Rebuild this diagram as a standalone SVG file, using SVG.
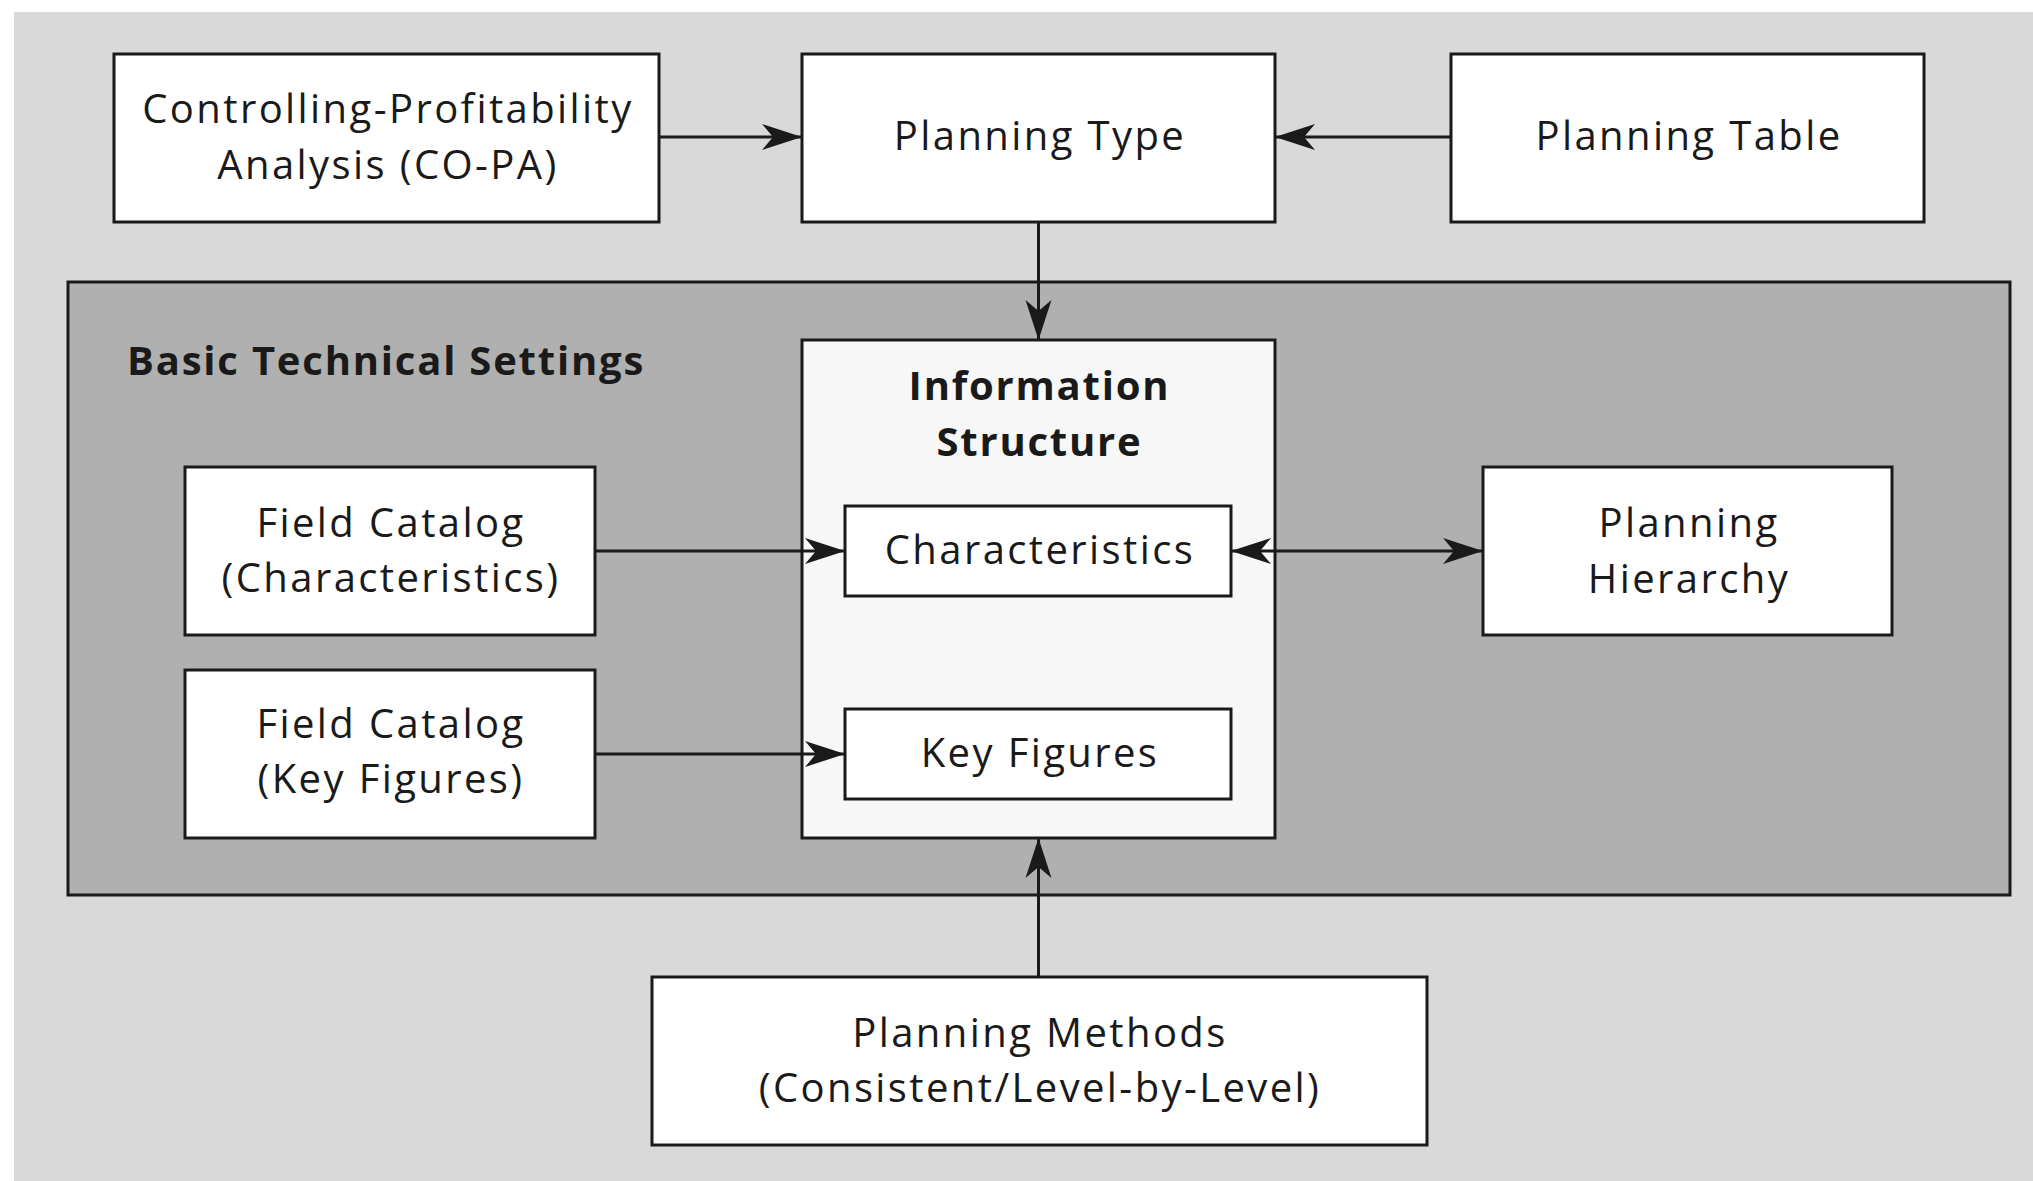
<svg xmlns="http://www.w3.org/2000/svg" width="2033" height="1181" viewBox="0 0 2033 1181">
<style>
  .box { fill: #ffffff; stroke: #1a1a1a; stroke-width: 3; }
  .panel { fill: #b0b0b0; stroke: #1a1a1a; stroke-width: 3; }
  .info { fill: #f7f7f7; stroke: #1a1a1a; stroke-width: 3; }
  .t { font-family: "Open Sans", "Liberation Sans", sans-serif; font-size: 40px; letter-spacing: 2.4px; fill: #1a1a1a; text-anchor: middle; }
  .b { font-family: "Open Sans", "Liberation Sans", sans-serif; font-size: 40px; letter-spacing: 1.8px; font-weight: bold; fill: #1a1a1a; }
  .c { fill: none; stroke: #1a1a1a; stroke-width: 3; }
</style>
<defs>
  <marker id="ah" viewBox="0 0 40 28" refX="39" refY="14" markerWidth="40" markerHeight="28" markerUnits="userSpaceOnUse" orient="auto-start-reverse">
    <path d="M0,1 L40,14 L0,27 L11,14 Z" fill="#1a1a1a"/>
  </marker>
</defs>
<rect x="0" y="0" width="2033" height="1181" fill="#ffffff"/>
<rect x="14" y="12" width="2019" height="1169" fill="#d9d9d9"/>
<g id="basic-technical-settings">
  <rect class="panel" x="68" y="282" width="1942" height="613"/>
  <text class="b" x="127" y="375">Basic Technical Settings</text>
</g>
<g id="co-pa">
  <rect class="box" x="114" y="54" width="545" height="168"/>
  <text class="t" x="388" y="123">Controlling-Profitability</text>
  <text class="t" x="388" y="179">Analysis (CO-PA)</text>
</g>
<g id="planning-type">
  <rect class="box" x="802" y="54" width="473" height="168"/>
  <text class="t" x="1040" y="150">Planning Type</text>
</g>
<g id="planning-table">
  <rect class="box" x="1451" y="54" width="473" height="168"/>
  <text class="t" x="1689" y="150">Planning Table</text>
</g>
<g id="information-structure">
  <rect class="info" x="802" y="340" width="473" height="498"/>
  <text class="b" x="1039.5" y="400" text-anchor="middle">Information</text>
  <text class="b" x="1039.5" y="456" text-anchor="middle">Structure</text>
</g>
<g id="characteristics">
  <rect class="box" x="845" y="506" width="386" height="90"/>
  <text class="t" x="1040" y="564">Characteristics</text>
</g>
<g id="key-figures">
  <rect class="box" x="845" y="709" width="386" height="90"/>
  <text class="t" x="1040" y="767">Key Figures</text>
</g>
<g id="planning-hierarchy">
  <rect class="box" x="1483" y="467" width="409" height="168"/>
  <text class="t" x="1689" y="537">Planning</text>
  <text class="t" x="1689" y="593">Hierarchy</text>
</g>
<g id="field-catalog-characteristics">
  <rect class="box" x="185" y="467" width="410" height="168"/>
  <text class="t" x="391" y="537">Field Catalog</text>
  <text class="t" x="391" y="592">(Characteristics)</text>
</g>
<g id="field-catalog-key-figures">
  <rect class="box" x="185" y="670" width="410" height="168"/>
  <text class="t" x="391" y="738">Field Catalog</text>
  <text class="t" x="391" y="793">(Key Figures)</text>
</g>
<g id="planning-methods">
  <rect class="box" x="652" y="977" width="775" height="168"/>
  <text class="t" x="1040" y="1047">Planning Methods</text>
  <text class="t" x="1040" y="1102">(Consistent/Level-by-Level)</text>
</g>
<g id="connectors">
  <line class="c" x1="659" y1="137" x2="801" y2="137" marker-end="url(#ah)"/>
  <line class="c" x1="1451" y1="137" x2="1276" y2="137" marker-end="url(#ah)"/>
  <line class="c" x1="1038.5" y1="222" x2="1038.5" y2="339" marker-end="url(#ah)"/>
  <line class="c" x1="595" y1="551" x2="844" y2="551" marker-end="url(#ah)"/>
  <line class="c" x1="595" y1="754" x2="844" y2="754" marker-end="url(#ah)"/>
  <line class="c" x1="1232" y1="551" x2="1482" y2="551" marker-start="url(#ah)" marker-end="url(#ah)"/>
  <line class="c" x1="1038.5" y1="977" x2="1038.5" y2="839" marker-end="url(#ah)"/>
</g>
</svg>
